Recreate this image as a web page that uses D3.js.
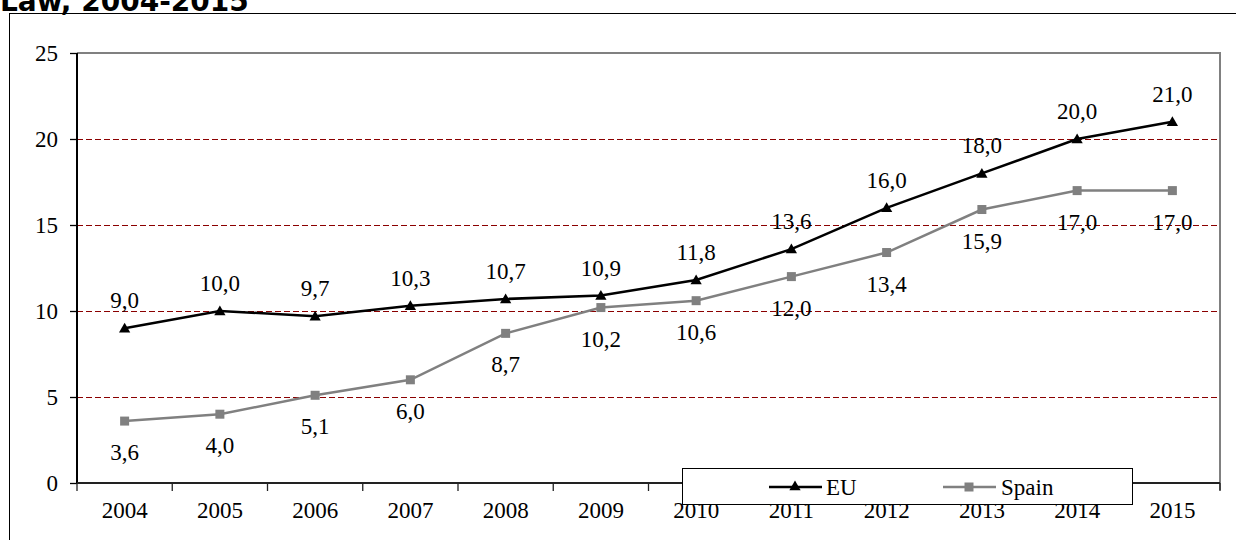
<!DOCTYPE html>
<html><head><meta charset="utf-8">
<script src="https://cdn.jsdelivr.net/npm/d3@7"></script>
<style>body{margin:0;background:#fff;}svg{display:block;}</style>
</head><body>
<svg id="c" width="1236" height="540"></svg>
<script>
const years = ["2004","2005","2006","2007","2008","2009","2010","2011","2012","2013","2014","2015"];
const euValues = [9.0,10.0,9.7,10.3,10.7,10.9,11.8,13.6,16.0,18.0,20.0,21.0];
const spainValues = [3.6,4.0,5.1,6.0,8.7,10.2,10.6,12.0,13.4,15.9,17.0,17.0];
const yTicks = [0,5,10,15,20,25];
const seriesNames = ["EU","Spain"];
const titleText = "Law, 2004-2015";

const svg = d3.select("#c");
const L = 77, R = 1220, T = 53, B = 483;
const fs = 23;
const SERIF = "Liberation Serif";
const serif = sel => sel.style("font-family",SERIF).style("font-size",fs+"px").attr("fill","#000");

// title (cut off at top, as in the reference)
svg.append("text").attr("x",0).attr("y",11)
  .style("font-family","DejaVu Sans").style("font-weight","bold")
  .style("font-size","28px").attr("fill","#000").text(titleText);

// outer frame
svg.append("rect").attr("x",9.5).attr("y",13.5).attr("width",1300).attr("height",600)
  .attr("fill","none").attr("stroke","#000").attr("stroke-width",1);

const x = d3.scaleBand().domain(years).range([L,R]).padding(0);
const y = d3.scaleLinear().domain([0,25]).range([B,T]);

// gridlines
svg.append("g").selectAll("line").data(yTicks.filter(d=>d>0 && d<25)).join("line")
  .attr("x1",L).attr("x2",R).attr("y1",d=>Math.round(y(d))+0.5).attr("y2",d=>Math.round(y(d))+0.5)
  .attr("stroke","#8b0000").attr("stroke-width",1).attr("stroke-dasharray","6,3");

// plot frame top/right gray
svg.append("line").attr("x1",L).attr("x2",R+1).attr("y1",T).attr("y2",T).attr("stroke","#808080").attr("stroke-width",2);
svg.append("line").attr("x1",R).attr("x2",R).attr("y1",T).attr("y2",B+7).attr("stroke","#808080").attr("stroke-width",2);

// y axis
const yAxis = d3.axisLeft(y).tickValues(yTicks).tickSize(7).tickPadding(12);
const gy = svg.append("g").attr("transform",`translate(${L},0)`).call(yAxis);
gy.attr("font-family",null).attr("font-size",null);
gy.select(".domain").attr("stroke","#000").attr("stroke-width",2).attr("d",`M0,${T}V${B}`);
gy.selectAll(".tick line").attr("stroke","#000").attr("stroke-width",1.3);
gy.selectAll("text").call(serif).attr("dy","0.33em");

// x axis
const gx = svg.append("g").attr("transform",`translate(0,${B})`);
gx.append("line").attr("x1",L).attr("x2",R).attr("y1",0).attr("y2",0).attr("stroke","#222").attr("stroke-width",2);
const bounds = years.map(d=>x(d)).concat([R]);
gx.selectAll("line.tk").data(bounds).join("line").attr("class","tk")
  .attr("x1",d=>d).attr("x2",d=>d).attr("y1",0).attr("y2",8).attr("stroke","#222").attr("stroke-width",1.3);
gx.selectAll("text").data(years).join("text")
  .attr("x",d=>x(d)+x.bandwidth()/2).attr("y",35).attr("text-anchor","middle")
  .call(serif).text(d=>d);

const cx = d=>x(d)+x.bandwidth()/2;
const fmt = v=>v.toFixed(1).replace(".",",");
const line = d3.line().x((d,i)=>cx(years[i])).y(d=>y(d));

// Spain
svg.append("path").datum(spainValues).attr("d",line).attr("fill","none").attr("stroke","#808080").attr("stroke-width",2.5);
svg.append("g").selectAll("rect").data(spainValues).join("rect")
  .attr("x",(d,i)=>cx(years[i])-4.5).attr("y",d=>y(d)-4.5).attr("width",9).attr("height",9).attr("fill","#808080");
// EU
svg.append("path").datum(euValues).attr("d",line).attr("fill","none").attr("stroke","#000").attr("stroke-width",2.5);
const tri = d3.symbol().type(d3.symbolTriangle).size(55);
svg.append("g").selectAll("path").data(euValues).join("path")
  .attr("transform",(d,i)=>`translate(${cx(years[i])},${y(d)+1})`).attr("d",tri).attr("fill","#000");

// labels
svg.append("g").selectAll("text").data(euValues).join("text")
  .attr("x",(d,i)=>cx(years[i])).attr("y",d=>y(d)-20).attr("text-anchor","middle")
  .call(serif).text(fmt);
svg.append("g").selectAll("text").data(spainValues).join("text")
  .attr("x",(d,i)=>cx(years[i])).attr("y",d=>y(d)+39).attr("text-anchor","middle")
  .call(serif).text(fmt);

// legend
const lg = svg.append("g");
lg.append("rect").attr("x",682.5).attr("y",468.5).attr("width",450).attr("height",36)
  .attr("fill","#fff").attr("stroke","#000").attr("stroke-width",1);
const ly = 487;
lg.append("line").attr("x1",769).attr("x2",822).attr("y1",ly).attr("y2",ly).attr("stroke","#000").attr("stroke-width",2.5);
lg.append("path").attr("transform",`translate(795,${ly})`).attr("d",tri).attr("fill","#000");
lg.append("text").attr("x",826).attr("y",ly+8).call(serif).text(seriesNames[0]);
lg.append("line").attr("x1",943).attr("x2",996).attr("y1",ly).attr("y2",ly).attr("stroke","#808080").attr("stroke-width",2.5);
lg.append("rect").attr("x",969-4.5).attr("y",ly-4.5).attr("width",9).attr("height",9).attr("fill","#808080");
lg.append("text").attr("x",1001).attr("y",ly+8).call(serif).text(seriesNames[1]);
</script>
</body></html>
